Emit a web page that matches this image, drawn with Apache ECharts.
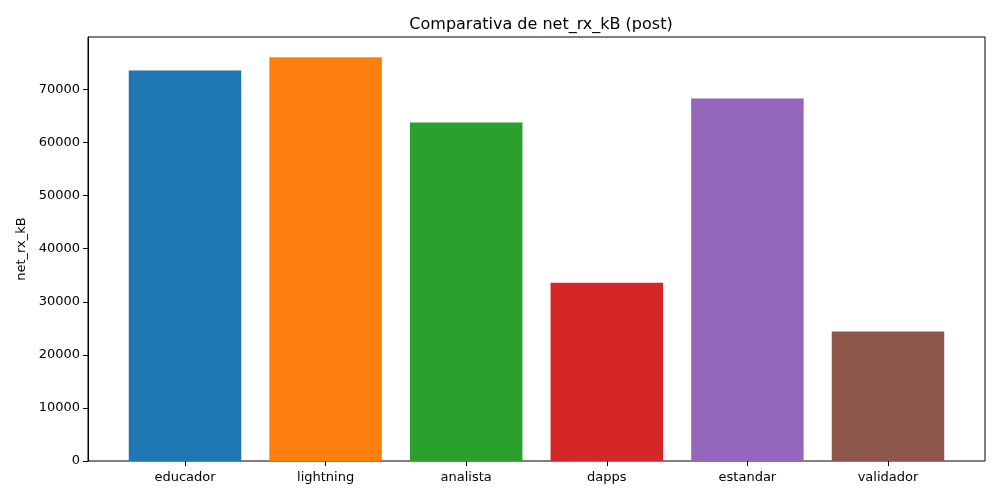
<!DOCTYPE html>
<html>
<head>
    <meta charset="utf-8">
    <script src="https://cdn.jsdelivr.net/npm/echarts@6/dist/echarts.min.js"></script>
    <style>
        html, body { margin: 0; padding: 0; background: #fff; }
    </style>
</head>
<body>
    <div id="main" style="width: 1000px;height:500px;"></div>
    <script type="text/javascript">
        // datos
        var categories = ['educador', 'lightning', 'analista', 'dapps', 'estandar', 'validador'];
        var values = [73600, 76100, 63800, 33600, 68300, 24400];
        var colors = ['#1f77b4', '#ff7f0e', '#2ca02c', '#d62728', '#9467bd', '#8c564b'];
        var yTicks = [0, 10000, 20000, 30000, 40000, 50000, 60000, 70000];

        var yMax = 79900;
        var font = 'DejaVu Sans';

        var myChart = echarts.init(document.getElementById('main'));

        myChart.setOption({
            animation: false,
            textStyle: { fontFamily: font },
            title: {
                text: 'Comparativa de net_rx_kB (post)',
                left: 536,
                top: 12,
                textAlign: 'center',
                textStyle: { fontFamily: font, fontSize: 16, fontWeight: 'normal', color: '#000' }
            },
            grid: [
                // marco (spines)
                { left: 88, right: 15, top: 37, bottom: 39, show: true, borderColor: '#000', borderWidth: 1, backgroundColor: 'transparent' },
                // zona de barras con márgenes de matplotlib
                { left: 114.7, right: 41.7, top: 37, bottom: 39 }
            ],
            xAxis: [
                { gridIndex: 0, type: 'value', min: 0, max: 1, show: false },
                {
                    gridIndex: 1,
                    type: 'category',
                    data: categories,
                    axisLine: { show: false },
                    axisTick: { show: true, alignWithLabel: true, length: 5, lineStyle: { color: '#000' } },
                    axisLabel: { color: '#000', fontSize: 13, margin: 10 }
                }
            ],
            yAxis: [
                { gridIndex: 0, type: 'value', min: 0, max: yMax, show: false },
                {
                    gridIndex: 1,
                    type: 'value',
                    min: 0,
                    max: yMax,
                    interval: 10000,
                    offset: 26.7,
                    name: 'net_rx_kB',
                    nameLocation: 'middle',
                    nameGap: 60,
                    nameTextStyle: { color: '#000', fontSize: 13, fontFamily: font },
                    axisLine: { show: true, lineStyle: { color: '#000' } },
                    axisTick: { show: true, length: 5, lineStyle: { color: '#000' } },
                    axisLabel: {
                        color: '#000',
                        fontSize: 13,
                        margin: 8,
                        showMaxLabel: false,
                        formatter: function (v) { return yTicks.indexOf(v) >= 0 ? String(v) : ''; }
                    },
                    splitLine: { show: false }
                }
            ],
            series: [
                {
                    type: 'bar',
                    xAxisIndex: 1,
                    yAxisIndex: 1,
                    barCategoryGap: '20%',
                    data: values.map(function (v, i) {
                        return { value: v, itemStyle: { color: colors[i] } };
                    })
                }
            ]
        });
    </script>
</body>
</html>
